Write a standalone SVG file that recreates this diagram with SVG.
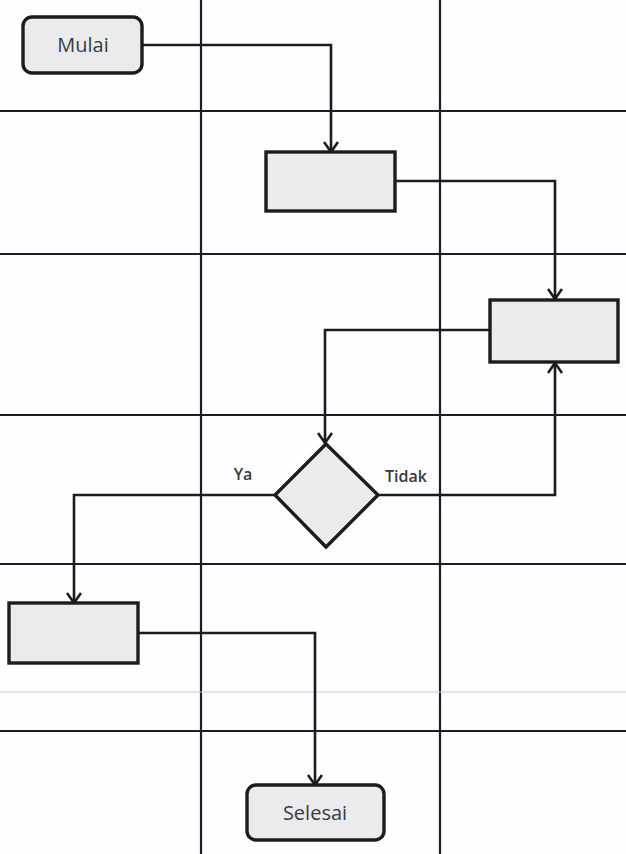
<svg xmlns="http://www.w3.org/2000/svg" width="626" height="854" viewBox="0 0 626 854">
<defs>
<style>
.grid{stroke:#1c1c22;stroke-width:2.2;fill:none}
.faint{stroke:#c8ccd2;stroke-width:1;fill:none}
.node{fill:#ebebee;stroke:#1c1c1e;stroke-width:3.4}
.conn{stroke:#1c1c1e;stroke-width:2.6;fill:none}
.lbl{font-family:"Open Sans","Liberation Sans",sans-serif;fill:#3a3a3e;text-anchor:middle}
.edge{font-weight:600}
</style>
<marker id="arrD" viewBox="0 0 16 12" refX="8" refY="11" markerWidth="16" markerHeight="12" markerUnits="userSpaceOnUse">
<path d="M1,1 L8,11 L15,1" fill="none" stroke="#1c1c1e" stroke-width="2.6"/>
</marker>
<marker id="arrU" viewBox="0 0 16 12" refX="8" refY="1" markerWidth="16" markerHeight="12" markerUnits="userSpaceOnUse">
<path d="M1,11 L8,1 L15,11" fill="none" stroke="#1c1c1e" stroke-width="2.6"/>
</marker>
</defs>
<rect x="0" y="0" width="626" height="854" fill="#fdfeff"/>
<g id="grid">
<line class="grid" x1="201" y1="0" x2="201" y2="854"/>
<line class="grid" x1="440" y1="0" x2="440" y2="854"/>
<line class="grid" x1="0" y1="111" x2="626" y2="111"/>
<line class="grid" x1="0" y1="254" x2="626" y2="254"/>
<line class="grid" x1="0" y1="415" x2="626" y2="415"/>
<line class="grid" x1="0" y1="564" x2="626" y2="564"/>
<line class="faint" x1="0" y1="692" x2="626" y2="692"/>
<line class="grid" x1="0" y1="731" x2="626" y2="731"/>
</g>
<g id="connectors">
<polyline class="conn" points="142,45 331,45 331,152" marker-end="url(#arrD)"/>
<polyline class="conn" points="395,181 555,181 555,299" marker-end="url(#arrD)"/>
<polyline class="conn" points="490,330 325,330 325,443" marker-end="url(#arrD)"/>
<polyline class="conn" points="378,495 555,495 555,363" marker-end="url(#arrU)"/>
<polyline class="conn" points="275,495 74,495 74,603" marker-end="url(#arrD)"/>
<polyline class="conn" points="138,633 315,633 315,785" marker-end="url(#arrD)"/>
<text class="lbl edge" x="243" y="480" font-size="16">Ya</text>
<text class="lbl edge" x="406" y="482" font-size="16">Tidak</text>
</g>
<g id="mulai">
<rect class="node" x="23" y="17" width="119" height="56" rx="9"/>
<text class="lbl" x="83" y="52" font-size="20">Mulai</text>
</g>
<g id="proses1">
<rect class="node" x="266" y="152" width="129" height="59"/>
</g>
<g id="proses2">
<rect class="node" x="490" y="300" width="128" height="62"/>
</g>
<g id="keputusan">
<polygon class="node" points="326,444 378,495 326,547 275,495"/>
</g>
<g id="proses3">
<rect class="node" x="9" y="603" width="129" height="60"/>
</g>
<g id="selesai">
<rect class="node" x="247" y="785" width="137" height="55" rx="9"/>
<text class="lbl" x="315" y="820" font-size="20">Selesai</text>
</g>
</svg>
